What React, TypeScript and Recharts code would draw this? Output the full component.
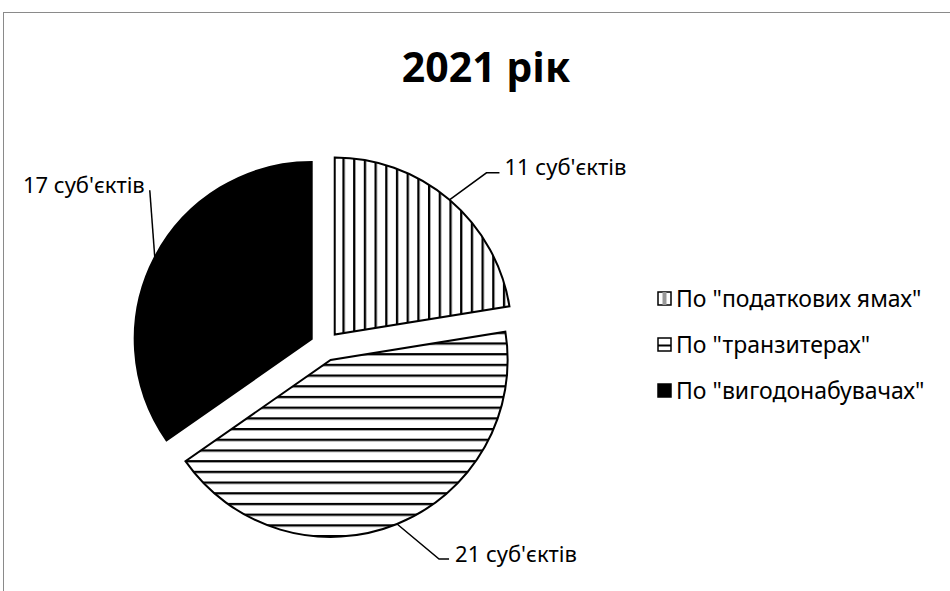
import React from 'react'
import { PieChart, Pie, Cell, Legend } from 'recharts'

const categories = ['По "податкових ямах"', 'По "транзитерах"', 'По "вигодонабувачах"']
const counts = [11, 21, 17]
const labelSuffix = ' суб\'єктів'
const title = '2021 рік'

const FONT = '"Noto Sans", sans-serif'
const CX = 325
const CY = 346
const RADIUS = 177
const EXPLODE = 15
const FILLS = ['url(#vstripes)', 'url(#hstripes)', '#000']

// leader line shapes per slice, relative to the point on the arc
const LEADERS = [
  { elbow: [37, -27], end: [50, -27], text: [55, -34], anchor: 'start' },
  { elbow: [42, 35], end: [52, 35], text: [58, 29], anchor: 'start' },
  { elbow: [-5, -67], end: [-5, -67], text: [-10, -73], anchor: 'end' },
]

const data = categories.map((name, i) => ({ name, value: counts[i] }))
const total = counts.reduce((a, b) => a + b, 0)

// explode offset of every slice along its middle angle (clockwise from 12 o'clock)
const offsets = counts.map((v, i) => {
  const before = counts.slice(0, i).reduce((a, b) => a + b, 0)
  const theta = (((before + v / 2) / total) * 360 * Math.PI) / 180
  return { dx: EXPLODE * Math.sin(theta), dy: -EXPLODE * Math.cos(theta) }
})

const RAD = Math.PI / 180

function makeLabel(target: number) {
  return (props: any) => {
    const { cx, cy, midAngle, outerRadius, index } = props
    if (index !== target) return null
    const x0 = cx + outerRadius * Math.cos(-midAngle * RAD)
    const y0 = cy + outerRadius * Math.sin(-midAngle * RAD)
    const l = LEADERS[index]
    return (
      <g>
        <polyline
          points={`${x0},${y0} ${x0 + l.elbow[0]},${y0 + l.elbow[1]} ${x0 + l.end[0]},${y0 + l.end[1]}`}
          fill="none"
          stroke="#000"
          strokeWidth={1.5}
        />
        <text
          x={x0 + l.text[0]}
          y={y0 + l.text[1]}
          textAnchor={l.anchor}
          dominantBaseline="central"
          fontFamily={FONT}
          fontSize={22}
          fill="#000"
        >
          {`${counts[index]}${labelSuffix}`}
        </text>
      </g>
    )
  }
}

function LegendIcon({ index }: { index: number }) {
  return (
    <svg width={15} height={15} style={{ marginRight: 4, flex: 'none' }}>
      <rect x={1} y={1} width={13} height={13} fill={index === 2 ? '#000' : '#fff'} stroke="#000" strokeWidth={1.5} />
      {index === 0 && <rect x={5.5} y={1} width={4} height={13} fill="#999" />}
      {index === 1 && <rect x={1} y={7.5} width={13} height={2} fill="#000" />}
    </svg>
  )
}

function renderLegend() {
  return (
    <div style={{ fontFamily: FONT, fontSize: 23, color: '#000' }}>
      {categories.map((name, i) => (
        <div key={name} style={{ display: 'flex', alignItems: 'center', height: 46 }}>
          <LegendIcon index={i} />
          <span>{name}</span>
        </div>
      ))}
    </div>
  )
}

export default function App() {
  return (
    <div
      style={{
        position: 'absolute',
        left: 0,
        top: 0,
        width: 950,
        height: 591,
        overflow: 'hidden',
        background: '#fff',
      }}
    >
      <div
        style={{
          position: 'absolute',
          left: 3,
          top: 12,
          width: 1000,
          height: 700,
          border: '1px solid #8a8a8a',
        }}
      />
      <div style={{ position: 'absolute', left: 0, top: 0 }}>
        <PieChart width={950} height={591} margin={{ top: 0, right: 0, bottom: 0, left: 0 }}>
          <defs>
            <pattern id="vstripes" width={10.7} height={10} patternUnits="userSpaceOnUse">
              <rect x={0} y={0} width={10.7} height={10} fill="#fff" />
              <rect x={0} y={0} width={2.3} height={10} fill="#000" />
            </pattern>
            <pattern id="hstripes" width={10} height={10.7} patternUnits="userSpaceOnUse">
              <rect x={0} y={0} width={10} height={10.7} fill="#fff" />
              <rect x={0} y={0} width={10} height={2.3} fill="#000" />
            </pattern>
          </defs>
          <text
            x={486}
            y={66}
            textAnchor="middle"
            dominantBaseline="central"
            fontFamily={FONT}
            fontWeight="bold"
            fontSize={41}
            fill="#000"
          >
            {title}
          </text>
          {counts.map((_, target) => (
            <Pie
              key={target}
              data={data}
              dataKey="value"
              nameKey="name"
              cx={CX + offsets[target].dx}
              cy={CY + offsets[target].dy}
              outerRadius={RADIUS}
              startAngle={90}
              endAngle={-270}
              labelLine={false}
              label={makeLabel(target)}
              isAnimationActive={false}
            >
              {data.map((d, i) => (
                <Cell
                  key={d.name}
                  fill={i === target ? FILLS[i] : 'none'}
                  stroke={i === target ? '#000' : 'none'}
                  strokeWidth={2}
                />
              ))}
            </Pie>
          ))}
          <Legend
            layout="vertical"
            content={renderLegend}
            wrapperStyle={{ left: 657, top: 275, width: 295 }}
          />
        </PieChart>
      </div>
    </div>
  )
}
